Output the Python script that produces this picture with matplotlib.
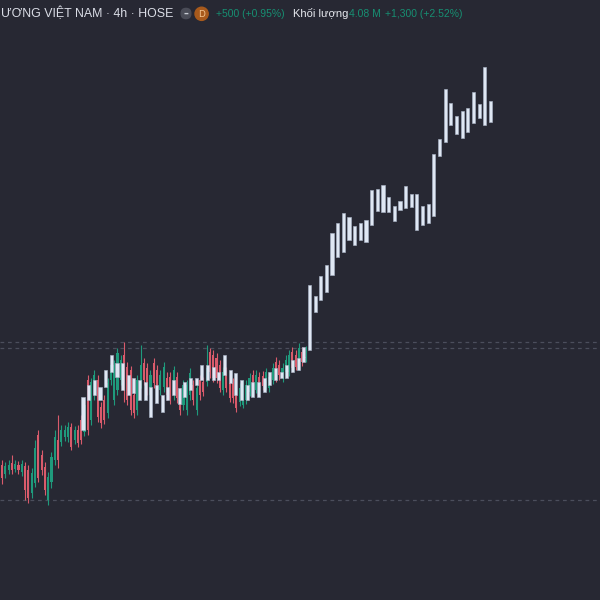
import numpy as np
import matplotlib
matplotlib.use("Agg")
import matplotlib.pyplot as plt
from matplotlib.patches import Circle, FancyBboxPatch

# main symbol candles (4h), price units are the chart's own scale
c_open = [135, 126, 130, 137, 131, 135, 128, 134, 130, 107, 117, 165, 145, 133, 100, 118, 140, 160, 158, 163,
          163, 173, 160, 170, 180, 168, 220, 180, 205, 220, 193, 200, 187, 220, 200, 210, 220, 245, 233, 230,
          205, 190, 217, 237, 232, 205, 237, 230, 210, 213, 222, 223, 205, 223, 207, 195, 190, 205, 215, 190,
          220, 218, 218, 248, 245, 242, 235, 210, 228, 217, 217, 207, 198, 195, 200, 208, 225, 210, 223, 224,
          215, 212, 220, 238, 235, 222, 228, 228, 248, 245, 233, 248, 242]
c_high = [140, 138, 140, 145, 140, 139, 140, 138, 135, 132, 160, 170, 150, 138, 128, 148, 170, 185, 175, 175,
          178, 177, 174, 175, 185, 202, 225, 222, 230, 225, 198, 205, 222, 240, 240, 252, 245, 258, 238, 234,
          210, 225, 255, 242, 237, 230, 242, 235, 230, 238, 228, 228, 234, 228, 212, 220, 220, 232, 220, 217,
          225, 223, 255, 252, 250, 247, 240, 233, 233, 222, 222, 212, 217, 220, 220, 227, 230, 230, 228, 229,
          232, 228, 237, 243, 240, 237, 245, 250, 253, 250, 257, 253, 254]
c_low = [116, 122, 126, 126, 128, 126, 124, 100, 97, 102, 113, 118, 125, 105, 95, 112, 135, 132, 154, 159,
         158, 150, 156, 153, 156, 164, 165, 175, 200, 178, 172, 176, 182, 215, 195, 205, 215, 198, 195, 185,
         182, 185, 212, 215, 205, 200, 212, 200, 205, 208, 200, 196, 200, 197, 185, 190, 185, 200, 195, 185,
         200, 204, 214, 222, 218, 217, 208, 205, 208, 198, 197, 188, 194, 192, 196, 204, 208, 207, 211, 210,
         210, 208, 216, 218, 220, 218, 224, 224, 228, 230, 230, 234, 238]
c_close = [122, 134, 135, 130, 136, 130, 136, 110, 102, 127, 152, 122, 130, 110, 123, 143, 163, 140, 170, 170,
           173, 153, 170, 157, 160, 195, 170, 218, 225, 183, 177, 180, 217, 235, 235, 247, 240, 215, 200, 190,
           187, 220, 235, 220, 210, 225, 217, 205, 225, 233, 205, 200, 230, 202, 190, 215, 215, 227, 200, 212,
           205, 208, 232, 228, 222, 222, 212, 228, 212, 202, 202, 192, 212, 215, 215, 222, 212, 225, 215, 214,
           228, 223, 232, 222, 225, 232, 240, 245, 232, 233, 252, 238, 242]

# overlaid white bars (body only)
w_high = [203, 215, 220, 213, 230, 245, 237, 237, 225, 222, 220, 218, 213, 215, 205, 213, 220, 212, 218, 222,
          222, 235, 235, 233, 228, 245, 230, 227, 220, 215, 218, 218, 222, 228, 232, 228, 235, 240, 242, 253,
          315, 304, 324, 335, 367, 377, 387, 383, 374, 377, 380, 410, 411, 415, 403, 394, 399, 414, 406, 406,
          394, 396, 446, 461, 511, 497, 484, 489, 492, 508, 496, 533, 499]
w_low = [170, 200, 205, 200, 213, 228, 223, 210, 205, 207, 200, 200, 183, 197, 188, 200, 205, 196, 203, 210,
         215, 220, 220, 220, 220, 225, 217, 205, 200, 200, 203, 203, 208, 215, 220, 222, 222, 228, 230, 238,
         250, 288, 300, 308, 325, 343, 348, 360, 355, 360, 358, 375, 389, 388, 388, 379, 390, 392, 393, 370,
         375, 377, 384, 444, 458, 475, 466, 462, 468, 477, 482, 475, 478]

ref_lines = [258, 252, 100]

BG = '#272833'
GREEN = '#1f9a7c'
RED = '#d95b6b'
WHITE = '#dfe7f3'

fig = plt.figure(figsize=(6, 6), dpi=100, facecolor=BG)
ax = fig.add_axes([0, 0, 1, 1], facecolor=BG)
ax.set_ylim(0, 600)
ax.set_xlim(-0.6, 181.2)
ax.set_axis_off()

for y in ref_lines:
    ax.axhline(y, color='#4b4e5c', lw=0.9, ls=(0, (3, 3)), zorder=1)

k = np.arange(len(c_open))
o = np.array(c_open)
c = np.array(c_close)
cols = [GREEN if cc >= oo else RED for oo, cc in zip(o, c)]
ax.vlines(k, c_low, c_high, colors=cols, lw=0.8, zorder=2)
ax.bar(k, np.maximum(np.abs(c - o), 1.5), bottom=np.minimum(o, c), width=0.65,
       color=cols, edgecolor='none', zorder=3)

ax2 = ax.twiny()
ax2.set_xlim(-14.66, 91.34)
ax2.set_axis_off()
j = np.arange(len(w_high))
wh = np.array(w_high)
wl = np.array(w_low)
ax2.bar(j, wh - wl, bottom=wl, width=0.55, color=WHITE, edgecolor='#aeb9cc',
        linewidth=0.4, zorder=4)

# header
fig.text(0.002, 0.977, "ƯƠNG VIỆT NAM · 4h · HOSE", ha='left', va='center',
         color='#dadde6', fontsize=8.9, family='Liberation Sans')
fig.patches.append(FancyBboxPatch((0.302, 0.969), 0.016, 0.017, boxstyle='round,pad=0,rounding_size=0.008',
                                  transform=fig.transFigure, color='#4a4c57'))
fig.text(0.31, 0.977, "–", ha='center', va='center', color='#c9ccd4', fontsize=7, fontweight='bold')
fig.patches.append(Circle((0.336, 0.977), 0.011, transform=fig.transFigure, color='#a85a1c'))
fig.text(0.336, 0.976, "D", ha='center', va='center', color='#f3c58f', fontsize=6.5)
fig.text(0.36, 0.977, "+500 (+0.95%)", ha='left', va='center', color='#178f72', fontsize=7.5,
         family='Liberation Sans')
fig.text(0.489, 0.977, "Khối lượng", ha='left', va='center', color='#e6e8ee', fontsize=8,
         family='Liberation Sans')
fig.text(0.582, 0.977, "4.08 M", ha='left', va='center', color='#178f72', fontsize=7.5,
         family='Liberation Sans')
fig.text(0.641, 0.977, "+1,300 (+2.52%)", ha='left', va='center', color='#178f72', fontsize=7.5,
         family='Liberation Sans')

fig.savefig('out.png', dpi=100, facecolor=BG)
